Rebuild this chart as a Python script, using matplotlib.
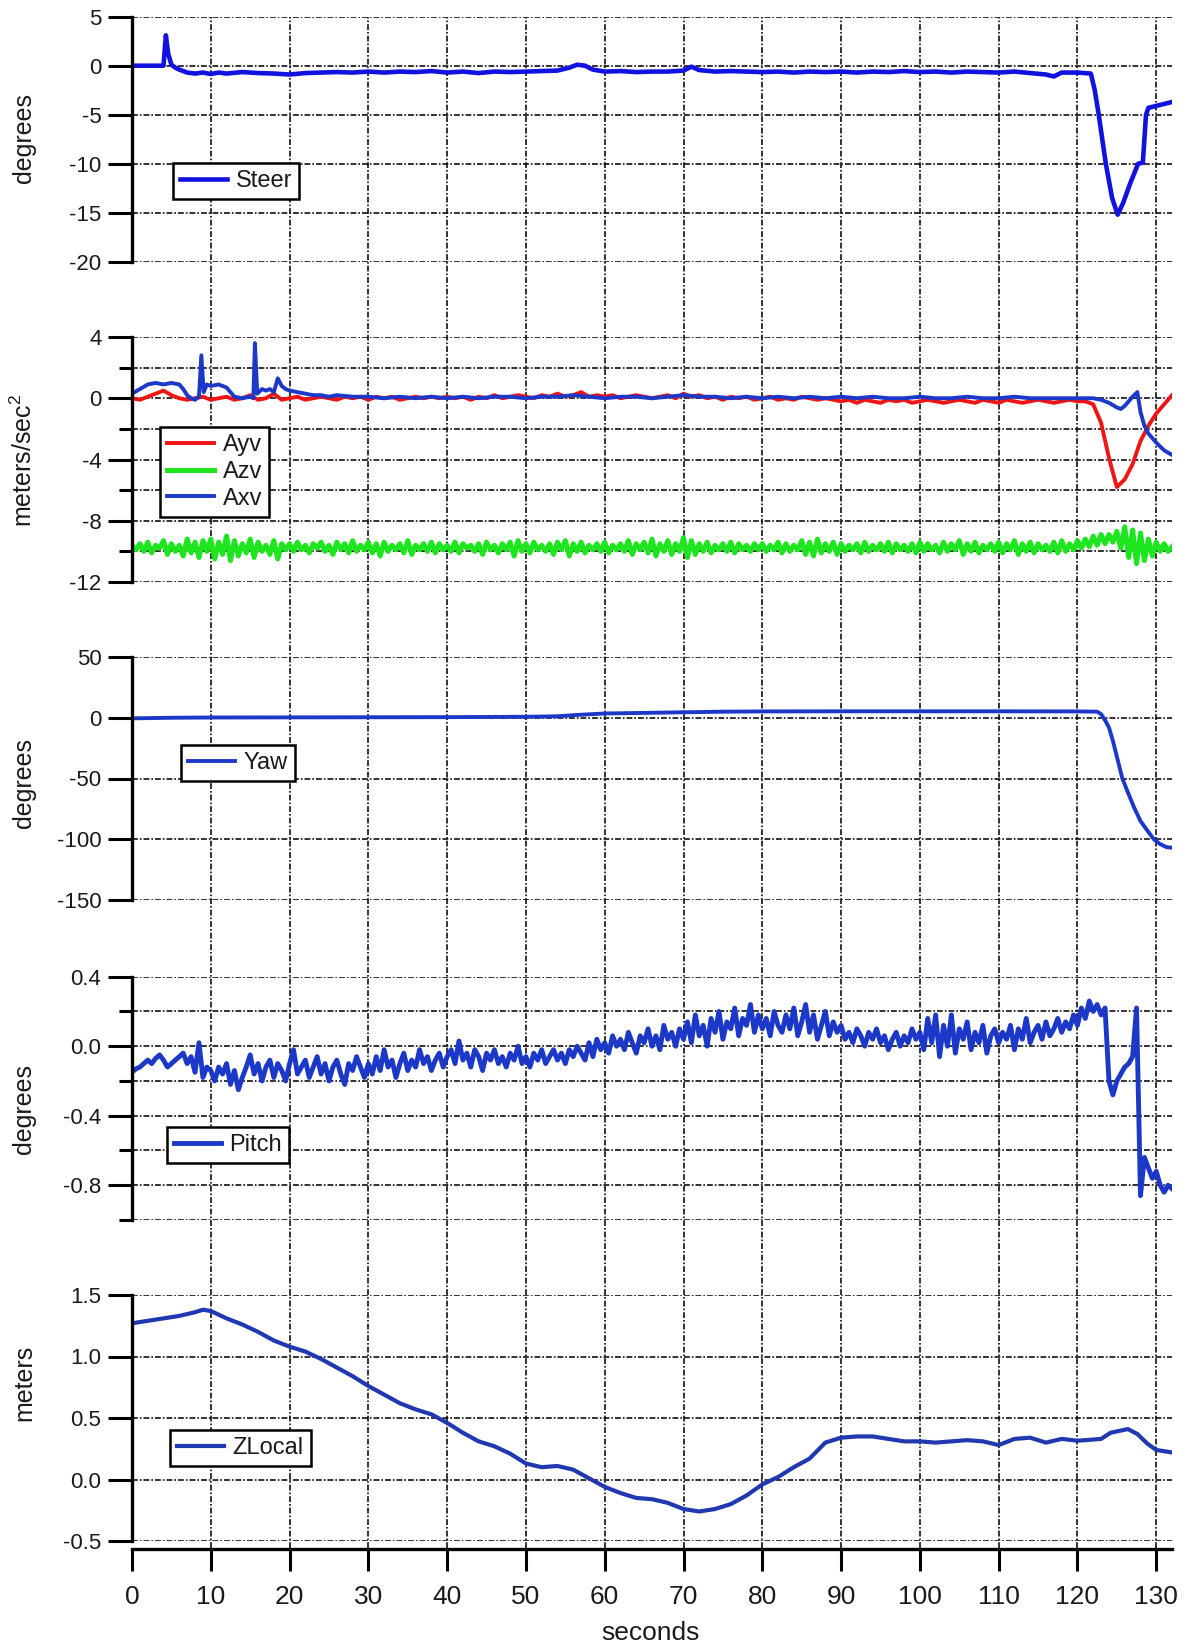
import numpy as np
import matplotlib
matplotlib.use("Agg")
from matplotlib import pyplot as plt, ticker

plt.rcParams["font.family"] = ["Liberation Sans", "DejaVu Sans"]
plt.rcParams["axes.unicode_minus"] = False
plt.rcParams["mathtext.default"] = "regular"

# Sampling grids for the logged channels
T_FAST = np.arange(0, 132.5, 0.5)   # Azv, Pitch
T_SLOW = np.arange(0, 133, 1.0)     # Ayv

# Steering wheel angle, (seconds, degrees)
STEER = [
    (0, 0.0), (4.0, 0.0), (4.3, 3.1), (4.6, 1.2), (5.0, 0.1), (5.5, -0.2), (6.0, -0.4),
    (7.0, -0.7), (8.0, -0.8), (9.0, -0.7), (10, -0.85), (11, -0.7), (12, -0.8), (14, -0.65),
    (16, -0.75), (18, -0.8), (20, -0.9), (22, -0.75), (24, -0.7), (26, -0.65), (28, -0.7),
    (30, -0.6), (32, -0.7), (34, -0.6), (36, -0.65), (38, -0.55), (40, -0.7), (42, -0.6),
    (44, -0.75), (46, -0.6), (48, -0.65), (50, -0.6), (52, -0.55), (54, -0.5), (55.5, -0.2),
    (56.5, 0.1), (57.5, 0.0), (58.5, -0.4), (60, -0.6), (62, -0.55), (64, -0.65), (66, -0.6),
    (68, -0.6), (70, -0.5), (71, -0.1), (72, -0.45), (74, -0.6), (76, -0.55), (78, -0.6),
    (80, -0.65), (82, -0.6), (84, -0.7), (86, -0.6), (88, -0.65), (90, -0.6), (92, -0.7),
    (94, -0.6), (96, -0.65), (98, -0.55), (100, -0.65), (102, -0.6), (104, -0.7), (106, -0.6),
    (108, -0.65), (110, -0.7), (112, -0.6), (114, -0.75), (116, -0.9), (117, -1.1), (118, -0.7),
    (120, -0.7), (121.7, -0.8), (122.2, -2.5), (122.7, -5.0), (123.6, -10.0), (124.4, -13.5),
    (125.1, -15.2), (125.8, -14.0), (126.7, -12.0), (127.7, -10.0), (128.3, -9.9), (128.7, -5.0),
    (129.0, -4.3), (130, -4.1), (131, -3.9), (132, -3.7),
]

# Lateral acceleration on T_SLOW (m/s^2)
AYV = [
    0.0, -0.1, 0.1, 0.3, 0.5, 0.2, 0.0, -0.1, 0.0, 0.1,
    -0.1, 0.0, 0.1, -0.1, 0.0, 0.2, -0.1, 0.0, 0.3, -0.1,
    0.0, 0.1, -0.1, 0.0, 0.1, 0.0, -0.1, 0.1, 0.0, 0.1,
    -0.1, 0.1, 0.0, 0.1, -0.1, 0.0, 0.1, 0.0, 0.1, 0.0,
    0.1, 0.0, 0.1, -0.1, 0.1, 0.0, 0.2, 0.0, 0.1, 0.2,
    0.1, 0.0, 0.2, 0.1, 0.3, 0.1, 0.2, 0.4, 0.1, 0.2,
    0.1, 0.2, 0.0, 0.1, 0.2, 0.1, 0.0, 0.1, 0.2, 0.0,
    0.3, 0.1, 0.2, 0.0, 0.1, -0.1, 0.1, 0.0, 0.1, -0.1,
    0.0, 0.1, -0.1, 0.0, -0.1, 0.1, 0.0, -0.1, 0.0, -0.1,
    -0.2, -0.1, -0.3, -0.1, -0.2, -0.3, -0.1, -0.2, -0.1, -0.3,
    -0.2, -0.1, -0.2, -0.3, -0.2, -0.1, -0.2, -0.3, -0.1, -0.2,
    -0.3, -0.1, -0.2, -0.3, -0.2, -0.1, -0.2, -0.3, -0.2, -0.1,
    -0.2, -0.2, -0.4, -1.6, -3.9, -5.8, -5.3, -4.3, -2.8, -1.8,
    -1.0, -0.4, 0.2,
]

# Vertical acceleration on T_FAST (m/s^2)
AZV = [
    -9.6, -9.9, -9.5, -10.0, -9.4, -10.1, -9.6, -9.8, -9.3, -10.2, -9.5, -10.0, -9.6, -10.3, -9.2, -10.1, -9.4, -10.4, -9.3, -10.0,
    -9.2, -10.5, -9.4, -10.2, -9.0, -10.6, -9.3, -10.3, -9.5, -10.1, -9.2, -10.4, -9.4, -10.0, -9.6, -10.2, -9.3, -10.5, -9.5, -9.9,
    -9.5, -10.0, -9.4, -9.9, -9.6, -10.1, -9.5, -9.8, -9.4, -10.0, -9.6, -10.2, -9.4, -9.9, -9.5, -10.1, -9.3, -10.0, -9.6, -9.9,
    -9.4, -10.1, -9.5, -10.3, -9.4, -10.0, -9.6, -9.9, -9.5, -10.1, -9.3, -10.2, -9.6, -9.9, -9.5, -10.0, -9.4, -10.1, -9.5, -9.9,
    -9.6, -10.0, -9.4, -10.1, -9.5, -9.8, -9.6, -10.0, -9.5, -10.2, -9.4, -9.9, -9.6, -10.1, -9.5, -9.9, -9.4, -10.3, -9.3, -10.0,
    -9.5, -10.1, -9.4, -9.9, -9.6, -10.0, -9.5, -10.2, -9.4, -9.9, -9.3, -10.3, -9.5, -10.0, -9.4, -10.1, -9.6, -9.9, -9.5, -10.0,
    -9.4, -10.1, -9.6, -9.9, -9.5, -10.0, -9.3, -10.2, -9.5, -9.9, -9.4, -10.1, -9.2, -10.3, -9.5, -10.0, -9.3, -10.2, -9.5, -10.0,
    -9.1, -10.4, -9.3, -10.2, -9.5, -10.0, -9.4, -10.1, -9.6, -9.9, -9.5, -10.0, -9.4, -10.1, -9.5, -9.9, -9.6, -10.0, -9.5, -9.9,
    -9.5, -10.0, -9.6, -9.9, -9.4, -10.1, -9.5, -10.0, -9.6, -9.9, -9.3, -10.2, -9.4, -10.3, -9.2, -10.1, -9.5, -10.0, -9.4, -10.2,
    -9.5, -10.0, -9.6, -9.9, -9.5, -10.1, -9.4, -10.0, -9.6, -9.9, -9.5, -10.0, -9.4, -10.1, -9.5, -9.9, -9.6, -10.0, -9.5, -10.1,
    -9.4, -10.0, -9.5, -9.9, -9.6, -10.1, -9.4, -10.0, -9.5, -9.9, -9.3, -10.2, -9.5, -10.0, -9.4, -10.1, -9.6, -9.9, -9.5, -10.0,
    -9.4, -10.1, -9.5, -9.9, -9.3, -10.2, -9.5, -10.0, -9.4, -10.1, -9.5, -9.9, -9.6, -10.0, -9.4, -10.1, -9.3, -10.0, -9.5, -9.9,
    -9.3, -9.8, -9.2, -9.7, -9.0, -9.6, -8.9, -9.5, -8.9, -9.4, -8.7, -9.8, -8.4, -10.4, -8.6, -10.8, -8.8, -10.6, -9.2, -10.3,
    -9.4, -10.0, -9.5, -10.0, -9.7,
]

# Longitudinal acceleration, (seconds, m/s^2)
AXV = [
    (0, 0.3), (1, 0.6), (2, 0.9), (3, 1.0), (4, 0.9), (5, 1.0), (6, 0.9), (6.5, 0.6), (7, 0.2),
    (7.5, 0.0), (8, -0.1), (8.5, 0.1), (8.8, 2.8), (9.1, 0.4), (9.5, 0.9), (10, 0.8), (11, 0.9),
    (12, 0.7), (12.5, 0.4), (13, 0.1), (14, 0.0), (15, 0.1), (15.4, 0.0), (15.6, 3.6), (15.9, 0.3),
    (16.5, 0.6), (17, 0.5), (17.5, 0.6), (18, 0.4), (18.5, 1.3), (19, 0.8), (19.5, 0.6), (20, 0.5),
    (21, 0.4), (22, 0.3), (23, 0.2), (24, 0.2), (25, 0.1), (26, 0.2), (28, 0.1), (30, 0.1),
    (32, 0.0), (34, 0.1), (36, 0.0), (38, 0.1), (40, 0.0), (42, 0.1), (44, 0.0), (46, 0.1),
    (48, 0.1), (50, 0.0), (52, 0.1), (54, 0.1), (56, 0.2), (58, 0.1), (60, 0.0), (62, 0.1),
    (64, 0.1), (66, 0.0), (68, 0.1), (70, 0.2), (72, 0.1), (74, 0.1), (76, 0.0), (78, 0.1),
    (80, 0.0), (82, 0.1), (84, 0.0), (86, 0.1), (88, 0.0), (90, 0.1), (92, 0.0), (94, 0.1),
    (96, 0.0), (98, 0.0), (100, 0.1), (102, 0.0), (104, 0.0), (106, 0.1), (108, 0.0), (110, 0.0),
    (112, 0.1), (114, 0.0), (116, 0.0), (118, 0.0), (120, 0.0), (121, 0.0), (122, 0.0),
    (123, -0.1), (124, -0.3), (125, -0.6), (125.5, -0.7), (126, -0.5), (126.5, -0.2), (127, 0.1),
    (127.6, 0.4), (128, -0.9), (128.5, -1.8), (129, -2.3), (130, -2.9), (131, -3.4), (132, -3.7),
]

# Heading, (seconds, degrees)
YAW = [
    (0, -0.5), (5, 0.0), (10, 0.2), (20, 0.3), (30, 0.4), (40, 0.5), (50, 0.8), (54, 1.2),
    (57, 2.5), (60, 3.5), (65, 4.0), (70, 4.5), (75, 5.0), (80, 5.2), (90, 5.3), (100, 5.3),
    (110, 5.3), (120, 5.2), (122.5, 5.0), (123, 3.0), (123.5, -2.0), (124, -8.0), (124.5, -19.0),
    (125, -32.0), (125.7, -50.0), (126.5, -63.0), (127.2, -74.0), (128, -85.0), (129, -94.0),
    (129.7, -100.0), (130.5, -104.0), (131.3, -106.5), (132, -107.0),
]

# Pitch on T_FAST (degrees)
PITCH = [
    -0.15, -0.13, -0.12, -0.10, -0.08, -0.10, -0.07, -0.05, -0.08, -0.12, -0.10, -0.08, -0.06, -0.04, -0.10, -0.06, -0.15, 0.02, -0.18, -0.12,
    -0.14, -0.20, -0.12, -0.16, -0.10, -0.22, -0.14, -0.25, -0.18, -0.12, -0.05, -0.16, -0.10, -0.20, -0.12, -0.08, -0.18, -0.10, -0.14, -0.20,
    -0.10, -0.02, -0.16, -0.12, -0.08, -0.18, -0.12, -0.06, -0.16, -0.10, -0.20, -0.12, -0.08, -0.16, -0.22, -0.10, -0.14, -0.06, -0.12, -0.18,
    -0.10, -0.16, -0.06, -0.14, -0.02, -0.12, -0.08, -0.18, -0.10, -0.04, -0.14, -0.08, -0.12, -0.02, -0.10, -0.06, -0.14, -0.08, -0.04, -0.12,
    -0.06, -0.02, -0.10, 0.03, -0.08, -0.04, -0.12, -0.02, -0.06, -0.14, -0.04, -0.08, -0.02, -0.10, -0.06, -0.12, -0.04, -0.08, 0.00, -0.10,
    -0.06, -0.12, -0.04, -0.08, -0.02, -0.10, -0.06, -0.02, -0.08, -0.04, -0.10, -0.02, -0.06, 0.00, -0.04, -0.08, 0.02, -0.06, 0.04, -0.02,
    0.02, -0.04, 0.06, 0.00, 0.04, -0.02, 0.08, 0.02, -0.04, 0.06, 0.02, 0.10, 0.00, 0.06, -0.02, 0.12, 0.04, 0.08, 0.00, 0.10,
    0.04, 0.14, 0.02, 0.18, 0.06, 0.12, 0.00, 0.16, 0.08, 0.20, 0.04, 0.14, 0.10, 0.22, 0.06, 0.16, 0.12, 0.24, 0.08, 0.18,
    0.10, 0.16, 0.06, 0.20, 0.12, 0.08, 0.18, 0.10, 0.22, 0.06, 0.14, 0.24, 0.08, 0.18, 0.04, 0.12, 0.20, 0.06, 0.14, 0.08,
    0.12, 0.04, 0.08, 0.02, 0.10, 0.06, 0.00, 0.08, 0.04, 0.10, 0.02, 0.06, -0.02, 0.04, 0.08, 0.00, 0.06, 0.02, 0.10, 0.04,
    0.08, -0.02, 0.16, 0.02, 0.18, -0.06, 0.12, 0.00, 0.18, -0.04, 0.10, 0.04, 0.14, -0.02, 0.08, 0.02, 0.12, -0.04, 0.06, 0.10,
    0.02, 0.08, 0.04, 0.12, -0.02, 0.10, 0.04, 0.16, 0.02, 0.08, 0.12, 0.04, 0.14, 0.06, 0.10, 0.16, 0.08, 0.14, 0.10, 0.18,
    0.12, 0.22, 0.16, 0.26, 0.20, 0.24, 0.18, 0.22, -0.20, -0.28, -0.20, -0.16, -0.12, -0.10, -0.06, 0.22, -0.86, -0.64, -0.70, -0.76,
    -0.72, -0.80, -0.84, -0.80, -0.82,
]

# Height in local frame, (seconds, meters)
ZLOCAL = [
    (0, 1.27), (2, 1.29), (4, 1.31), (6, 1.33), (8, 1.36), (9, 1.38), (10, 1.37), (11, 1.34),
    (12, 1.31), (14, 1.26), (16, 1.2), (18, 1.13), (20, 1.08), (22, 1.04), (24, 0.98), (26, 0.91),
    (28, 0.84), (30, 0.76), (32, 0.69), (34, 0.62), (36, 0.57), (38, 0.53), (40, 0.46), (42, 0.38),
    (44, 0.31), (46, 0.27), (48, 0.21), (50, 0.13), (52, 0.1), (54, 0.11), (56, 0.08), (58, 0.01),
    (60, -0.06), (62, -0.11), (64, -0.15), (66, -0.16), (68, -0.19), (70, -0.24), (72, -0.26),
    (74, -0.24), (76, -0.2), (78, -0.13), (80, -0.04), (82, 0.02), (84, 0.1), (86, 0.17), (88, 0.3),
    (90, 0.34), (92, 0.35), (94, 0.35), (96, 0.33), (98, 0.31), (100, 0.31), (102, 0.3), (104, 0.31),
    (106, 0.32), (108, 0.31), (110, 0.28), (112, 0.33), (114, 0.34), (116, 0.3), (118, 0.33),
    (120, 0.315), (123, 0.33), (124.2, 0.38), (126.4, 0.41), (127.6, 0.37), (128.9, 0.29),
    (130, 0.24), (132, 0.22),
]

# Axis ticks
SECONDS_TICKS = list(range(0, 131, 10))
STEER_TICKS = [5, 0, -5, -10, -15, -20]
ACCEL_TICKS = [4, 0, -4, -8, -12]
ACCEL_MINOR = [2, -2, -6, -10]
YAW_TICKS = [50, 0, -50, -100, -150]
PITCH_TICKS = [0.4, 0.0, -0.4, -0.8]
PITCH_MINOR = [0.2, -0.2, -0.6, -1.0]
ZLOCAL_TICKS = [1.5, 1.0, 0.5, 0.0, -0.5]

# Layout in pixels
FIG_W, FIG_H = 1186, 1648
AX_LEFT, AX_RIGHT = 132, 1172
X_MAX = 132
TEXT = "#1a1a1a"
GRID_STYLE = dict(color="#111111", linewidth=1.2, linestyle=(0, (3.5, 1.2, 1, 1.2)))
BLUE = "#1c38c8"


def fx(px):
    return px / FIG_W


def fy(px):
    return 1 - px / FIG_H


def make_panel(fig, top, bottom, ticks, minor=None, fmt=None):
    ax = fig.add_axes([fx(AX_LEFT), fy(bottom), fx(AX_RIGHT) - fx(AX_LEFT), (bottom - top) / FIG_H])
    ax.patch.set_visible(False)
    ax.set_xlim(0, X_MAX)
    ax.set_ylim(min(ticks + (minor or [])), max(ticks + (minor or [])))

    ax.yaxis.set_major_locator(ticker.FixedLocator(ticks))
    if minor:
        ax.yaxis.set_minor_locator(ticker.FixedLocator(minor))
    if fmt:
        ax.yaxis.set_major_formatter(ticker.FormatStrFormatter(fmt))

    for side in ("top", "right", "bottom"):
        ax.spines[side].set_visible(False)
    ax.spines["left"].set_linewidth(2.4)

    ax.tick_params(axis="y", which="major", length=17, width=2.2, labelsize=16, pad=5, labelcolor=TEXT)
    ax.tick_params(axis="y", which="minor", length=9.5, width=2.2)
    ax.tick_params(axis="x", which="both", bottom=False, labelbottom=False)

    ax.yaxis.grid(True, which="both", **GRID_STYLE)
    ax.set_axisbelow(True)
    return ax


def add_legend(ax, left, top):
    leg = ax.legend(loc="upper left", bbox_to_anchor=(fx(left), fy(top)),
                    bbox_transform=ax.figure.transFigure, borderaxespad=0,
                    fancybox=False, framealpha=1, edgecolor="black", fontsize=17,
                    handlelength=2.0, handletextpad=0.35, borderpad=0.3, labelspacing=0.2)
    leg.get_frame().set_linewidth(1.8)
    for text in leg.get_texts():
        text.set_color(TEXT)


fig = plt.figure(figsize=(FIG_W / 100, FIG_H / 100), dpi=100, facecolor="white")

# Vertical grid running through all panels
bg = fig.add_axes([fx(AX_LEFT), fy(1548), fx(AX_RIGHT) - fx(AX_LEFT), (1548 - 16.7) / FIG_H])
bg.set_xlim(0, X_MAX)
bg.axis("off")
for sec in SECONDS_TICKS[1:]:
    bg.axvline(sec, **GRID_STYLE)

# Steer
ax1 = make_panel(fig, 16.7, 261.7, STEER_TICKS)
t, v = np.array(STEER).T
ax1.plot(t, v, color="#1212e0", linewidth=3.3, label="Steer")
add_legend(ax1, 173, 163)

# Accelerations
ax2 = make_panel(fig, 337, 582, ACCEL_TICKS, ACCEL_MINOR)
ax2.plot(T_SLOW, AYV, color="#f01414", linewidth=2.8, label="Ayv")
ax2.plot(T_FAST, AZV, color="#1ee61e", linewidth=3.6, label="Azv")
t, v = np.array(AXV).T
ax2.plot(t, v, color=BLUE, linewidth=2.8, label="Axv")
add_legend(ax2, 160, 427)

# Yaw
ax3 = make_panel(fig, 657, 900, YAW_TICKS)
t, v = np.array(YAW).T
ax3.plot(t, v, color=BLUE, linewidth=2.8, label="Yaw")
add_legend(ax3, 181, 745)

# Pitch
ax4 = make_panel(fig, 976.7, 1220, PITCH_TICKS, PITCH_MINOR, fmt="%.1f")
ax4.plot(T_FAST, PITCH, color=BLUE, linewidth=3.5, label="Pitch")
add_legend(ax4, 167, 1127)

# ZLocal, carries the time axis
ax5 = make_panel(fig, 1295, 1541, ZLOCAL_TICKS, fmt="%.1f")
t, v = np.array(ZLOCAL).T
ax5.plot(t, v, color="#2038b0", linewidth=3.0, label="ZLocal")
add_legend(ax5, 170, 1430)

ax5.spines["bottom"].set_visible(True)
ax5.spines["bottom"].set_linewidth(2.4)
ax5.spines["bottom"].set_position(("outward", 6))
ax5.xaxis.set_major_locator(ticker.FixedLocator(SECONDS_TICKS))
ax5.tick_params(axis="x", which="major", bottom=True, labelbottom=True,
                length=16, width=2.2, labelsize=19, pad=10, labelcolor=TEXT)

# Axis titles
for label, y in [("degrees", 138), ("meters/sec$^2$", 460), ("degrees", 783),
                 ("degrees", 1109), ("meters", 1383)]:
    fig.text(fx(24), fy(y), label, rotation=90, ha="center", va="center", fontsize=18, color=TEXT)
fig.text(fx(650), fy(1633), "seconds", ha="center", va="center", fontsize=19, color=TEXT)

fig.savefig("out.png", dpi=100)
